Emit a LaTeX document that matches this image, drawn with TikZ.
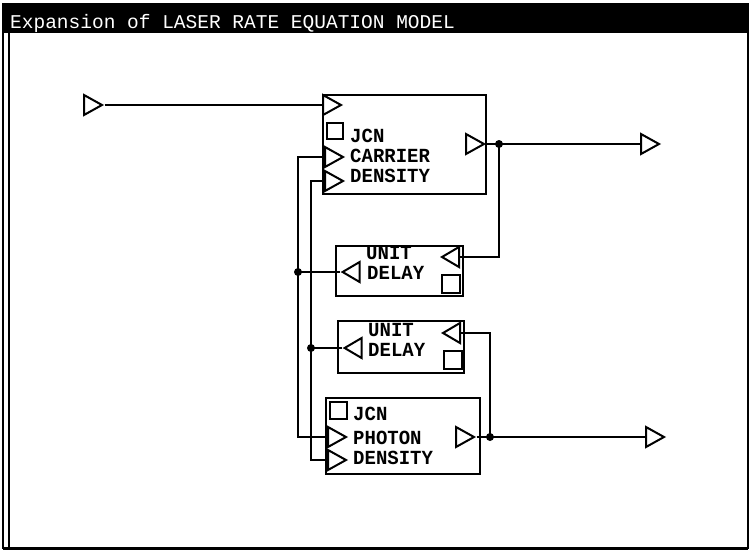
\documentclass[tikz,border=0pt]{standalone}
\usepackage{fontspec}
\newfontfamily\dgmono{Liberation Mono}
\newfontfamily\dgmonoc[FakeStretch=0.95]{Liberation Mono}
\usetikzlibrary{shapes.geometric}
\newcommand\lblfont{\dgmonoc\bfseries\fontsize{20}{20}\selectfont}
\newcommand\ttlfont{\dgmono\fontsize{19.5}{20}\selectfont}
\tikzset{
  blk/.style={draw, line width=1.9pt, inner sep=0pt, anchor=north west},
  rtri/.style={draw, isosceles triangle, isosceles triangle stretches, shape border rotate=0,
    minimum width=20pt, minimum height=18pt, inner sep=0pt, line width=2pt, anchor=west},
  ltri/.style={draw, isosceles triangle, isosceles triangle stretches, shape border rotate=180,
    minimum width=20pt, minimum height=17pt, inner sep=0pt, line width=2pt},
  sq/.style={draw, line width=1.8pt, inner sep=0pt, anchor=north west},
  lbl/.style={font=\lblfont, inner sep=0pt, text height=13pt, text depth=0pt, anchor=base west},
  wire/.style={line width=1.8pt},
  dot/.style={fill, circle, inner sep=0pt, minimum size=8pt}
}
\begin{document}
\begin{tikzpicture}[x=1pt,y=-1pt]
\useasboundingbox (0,0) rectangle (750,552);
% frame and title bar
\draw[line width=2pt] (3,4) rectangle (748,548);
\draw[line width=3pt] (3,548) -- (748,548);
\fill (3,4) rectangle (749,33);
\draw[line width=1.5pt] (9,33) -- (9,548);
\node[font=\ttlfont, text=white, inner sep=0pt, anchor=base west] (title) at (10,28) {Expansion of LASER RATE EQUATION MODEL};

% external ports
\node[rtri] (extin) at (83,105) {};
\node[rtri] (out1) at (640,144) {};
\node[rtri] (out2) at (645,437) {};

% JCN carrier density block
\node[blk, minimum width=163pt, minimum height=99pt] (carrier) at (322,94) {};
\node[rtri] (cin1) at (322,105) {};
\node[sq, minimum size=16pt] (csq) at (326,122) {};
\node[rtri] (cin2) at (324,157) {};
\node[rtri] (cin3) at (324,181) {};
\node[rtri] (cout) at (465,144) {};
\node[lbl] (ct1) at (350,142) {JCN};
\node[lbl] (ct2) at (350,162) {CARRIER};
\node[lbl] (ct3) at (350,182) {DENSITY};

% unit delay 1
\node[blk, minimum width=127pt, minimum height=50pt] (delay1) at (335,245) {};
\node[ltri, anchor=east] (d1in) at (460,257) {};
\node[ltri, anchor=west] (d1out) at (340,272) {};
\node[sq, minimum size=18pt] (d1sq) at (441,274) {};
\node[lbl] (d1t1) at (366,259) {UNIT};
\node[lbl] (d1t2) at (367,279) {DELAY};

% unit delay 2
\node[blk, minimum width=126pt, minimum height=52pt] (delay2) at (337,320) {};
\node[ltri, anchor=east] (d2in) at (461,333) {};
\node[ltri, anchor=west] (d2out) at (342,348) {};
\node[sq, minimum size=18pt] (d2sq) at (443,350) {};
\node[lbl] (d2t1) at (368,336) {UNIT};
\node[lbl] (d2t2) at (368,356) {DELAY};

% JCN photon density block
\node[blk, minimum width=154pt, minimum height=76pt] (photon) at (325,397) {};
\node[sq, minimum size=17pt] (psq) at (329,401) {};
\node[rtri] (pin1) at (327,437) {};
\node[rtri] (pin2) at (327,460) {};
\node[rtri] (pout) at (455,437) {};
\node[lbl] (pt1) at (353,420) {JCN};
\node[lbl] (pt2) at (353,444) {PHOTON};
\node[lbl] (pt3) at (353,464) {DENSITY};

% junctions
\coordinate (j1) at (499,144);
\coordinate (j2) at (298,272);
\coordinate (j3) at (311,348);
\coordinate (j4) at (490,437);

% wires
\draw[wire] (extin.east) -- (cin1.west);
\draw[wire] (cout.east) -- (j1) -- (out1.west);
\draw[wire] (j1) |- (d1in.east);
\draw[wire] (d1out.west) -- (j2);
\draw[wire] (cin2.west) -| (j2) |- (pin1.west);
\draw[wire] (cin3.west) -| (j3) |- (pin2.west);
\draw[wire] (d2out.west) -- (j3);
\draw[wire] (d2in.east) -| (j4);
\draw[wire] (pout.east) -- (j4) -- (out2.west);
\foreach \j in {j1,j2,j3,j4} \node[dot] at (\j) {};
\end{tikzpicture}
\end{document}
